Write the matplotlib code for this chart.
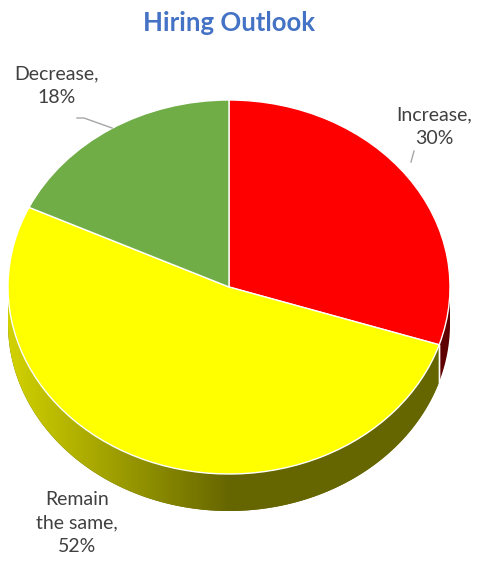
import numpy as np
import matplotlib
matplotlib.use("Agg")
import matplotlib.pyplot as plt
from matplotlib.colors import to_rgb
from matplotlib.patches import Polygon

# Chart data
categories = ["Increase", "Remain\nthe same", "Decrease"]
shares = [30, 52, 18]
top_colors = ["#FF0000", "#FFFF00", "#70AD47"]
side_colors = ["#5E0000", "#666600", "#4A7A2E"]

W, H = 480, 568
CX, CY = 229, 287      # pie centre in pixels
RX, RY = 221, 187      # ellipse radii in pixels
DEPTH = 37 / RY        # side wall thickness in data units

plt.rcParams["font.family"] = ["Lato", "DejaVu Sans"]

fig = plt.figure(figsize=(W / 100, H / 100), dpi=100)
ax = fig.add_axes([0, 0, 1, 1])

wedges, _ = ax.pie(shares, colors=top_colors, startangle=90, counterclock=False,
                   wedgeprops=dict(edgecolor="white", linewidth=1.0, zorder=3))

# squash the pie into an ellipse
ax.set_aspect("auto")
xlo, xhi = -CX / RX, (W - CX) / RX
ylo, yhi = -(H - CY) / RY, CY / RY
ax.set_xlim(xlo, xhi)
ax.set_ylim(ylo, yhi)
ax.axis("off")

# horizontal light gradient used on the yellow wall (bright on the left)
gx = np.linspace(xlo, xhi, 400)
stops = [-1.0, -0.35, 0.0, 2.0]
levels = [to_rgb("#D2D200")[0], to_rgb("#8C8C00")[0], to_rgb("#666600")[0], to_rgb("#666600")[0]]
lum = np.interp(gx, stops, levels)
grad = np.zeros((2, len(gx), 3))
grad[..., 0] = lum
grad[..., 1] = lum

# side walls on the front half of the pie
for i, w in enumerate(wedges):
    t1, t2 = w.theta1, w.theta2
    for shift in (0, 360, -360):
        a = max(t1 + shift, -180)
        b = min(t2 + shift, 0)
        if a >= b:
            continue
        tt = np.radians(np.linspace(a, b, 200))
        xs = np.concatenate([np.cos(tt), np.cos(tt[::-1])])
        ys = np.concatenate([np.sin(tt), np.sin(tt[::-1]) - DEPTH])
        poly = Polygon(np.column_stack([xs, ys]), closed=True,
                       fc=side_colors[i], ec="none", zorder=1)
        ax.add_patch(poly)
        if i == 1:
            im = ax.imshow(grad, extent=(xlo, xhi, ylo, yhi), aspect="auto",
                           interpolation="bilinear", zorder=1.5)
            im.set_clip_path(poly)
        # white seam at the slice boundary
        for t in (a, b):
            if -180 < t < 0:
                tr = np.radians(t)
                ax.plot([np.cos(tr)] * 2, [np.sin(tr), np.sin(tr) - DEPTH],
                        color="white", lw=1.0, zorder=2)

ax.set_xlim(xlo, xhi)
ax.set_ylim(ylo, yhi)

# overlay in pixel coordinates for text and leader lines
ov = fig.add_axes([0, 0, 1, 1])
ov.set_xlim(0, W)
ov.set_ylim(H, 0)
ov.axis("off")
ov.patch.set_alpha(0)

ov.text(229, 23, "Hiring Outlook", ha="center", va="center",
        fontsize=18.5, fontweight="bold", color="#4472C4")

label_pos = [(434, 127), (77, 523), (57, 86)]
for cat, v, (lx, ly) in zip(categories, shares, label_pos):
    ov.text(lx, ly, f"{cat},\n{v}%", ha="center", va="center",
            fontsize=14, color="#404040", linespacing=1.45)

# leader lines
ov.plot([77, 84, 112], [118, 118, 128], color="#A6A6A6", lw=1)
ov.plot([414, 411], [151, 162], color="#A6A6A6", lw=1)

fig.savefig("out.png", dpi=100, facecolor="white")
